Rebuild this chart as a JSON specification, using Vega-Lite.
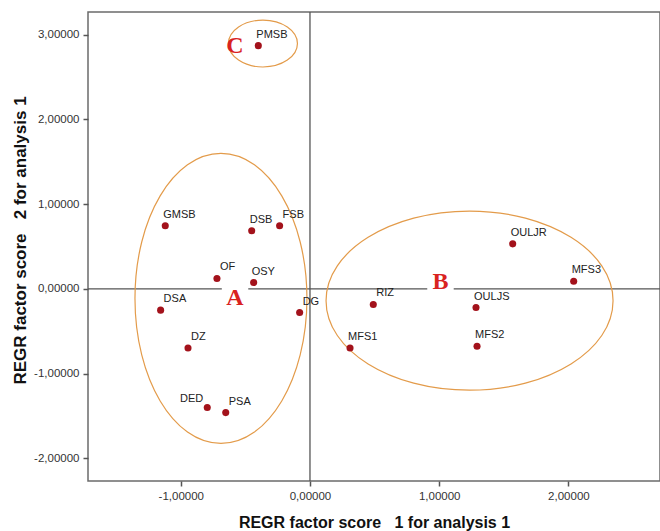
{
  "$schema": "https://vega.github.io/schema/vega-lite/v6.json",
  "width": 572,
  "height": 469,
  "autosize": {"type": "none"},
  "padding": {"left": 88, "top": 12, "right": 0, "bottom": 50},
  "background": "white",
  "config": {
    "view": {"stroke": "#6b6b6b", "strokeWidth": 1.5},
    "axis": {
      "domain": false,
      "grid": false,
      "tickSize": 5,
      "tickColor": "#555555",
      "tickWidth": 1.5,
      "labelFont": "Liberation Sans",
      "labelFontSize": 11.5,
      "labelColor": "#333333",
      "labelPadding": 4,
      "titleFont": "Liberation Sans",
      "titleFontSize": 16,
      "titleFontWeight": "bold",
      "titleColor": "#111111"
    }
  },
  "datasets": {
    "scores": [
      {"name": "PMSB", "x": -0.40, "y": 2.87},
      {"name": "GMSB", "x": -1.12, "y": 0.744},
      {"name": "DSB", "x": -0.451, "y": 0.685},
      {"name": "FSB", "x": -0.235, "y": 0.744},
      {"name": "OF", "x": -0.72, "y": 0.123},
      {"name": "OSY", "x": -0.436, "y": 0.075},
      {"name": "DSA", "x": -1.156, "y": -0.251},
      {"name": "DG", "x": -0.080, "y": -0.279},
      {"name": "DZ", "x": -0.944, "y": -0.697},
      {"name": "DED", "x": -0.795, "y": -1.40},
      {"name": "PSA", "x": -0.652, "y": -1.46},
      {"name": "RIZ", "x": 0.490, "y": -0.184},
      {"name": "MFS1", "x": 0.310, "y": -0.697},
      {"name": "OULJS", "x": 1.285, "y": -0.220},
      {"name": "MFS2", "x": 1.293, "y": -0.677},
      {"name": "MFS3", "x": 2.041, "y": 0.091},
      {"name": "OULJR", "x": 1.569, "y": 0.531}
    ],
    "clusters": [
      {"group": "A", "x": -0.689, "y": -0.113},
      {"group": "B", "x": 1.235, "y": -0.139},
      {"group": "C", "x": -0.364, "y": 2.895}
    ],
    "letters": [
      {"group": "A", "x": -0.580, "y": -0.107},
      {"group": "B", "x": 1.010, "y": 0.081},
      {"group": "C", "x": -0.580, "y": 2.868}
    ],
    "origin": [
      {"x": 0, "y": 0}
    ]
  },
  "layer": [
    {
      "data": {"name": "origin"},
      "mark": {"type": "rule", "color": "#555555", "strokeWidth": 1.3},
      "encoding": {
        "x": {
          "field": "x", "type": "quantitative",
          "scale": {"domain": [-1.718, 2.709], "nice": false, "zero": false},
          "axis": {
            "title": "REGR factor score \u00a0 1 for analysis 1",
            "values": [-1, 0, 1, 2],
            "titlePadding": 13,
            "labelExpr": "(datum.value < 0 ? '-' : '') + replace(format(abs(datum.value), '.5f'), '.', ',')"
          }
        }
      }
    },
    {
      "data": {"name": "origin"},
      "mark": {"type": "rule", "color": "#555555", "strokeWidth": 1.3},
      "encoding": {
        "y": {
          "field": "y", "type": "quantitative",
          "scale": {"domain": [-2.267, 3.267], "nice": false, "zero": false},
          "axis": {
            "title": "REGR factor score \u00a0 2 for analysis 1",
            "values": [-2, -1, 0, 1, 2, 3],
            "titlePadding": 4,
            "titleFontSize": 17,
            "titleY": 228,
            "labelExpr": "(datum.value < 0 ? '-' : '') + replace(format(abs(datum.value), '.5f'), '.', ',')"
          }
        }
      }
    },
    {
      "data": {"name": "clusters"},
      "transform": [{"filter": "datum.group === 'A'"}],
      "mark": {
        "type": "point", "filled": false, "opacity": 1, "color": "#e39b4a", "strokeWidth": 1.2,
        "shape": "M -0.593 0 C -0.593 -0.5523 -0.3275 -1 0 -1 C 0.3275 -1 0.593 -0.5523 0.593 0 C 0.593 0.5523 0.3275 1 0 1 C -0.3275 1 -0.593 0.5523 -0.593 0 Z",
        "size": 84100
      },
      "encoding": {
        "x": {"field": "x", "type": "quantitative", "scale": {"domain": [-1.718, 2.709], "nice": false, "zero": false}},
        "y": {"field": "y", "type": "quantitative", "scale": {"domain": [-2.267, 3.267], "nice": false, "zero": false}}
      }
    },
    {
      "data": {"name": "clusters"},
      "transform": [{"filter": "datum.group === 'B'"}],
      "mark": {
        "type": "point", "filled": false, "opacity": 1, "color": "#e39b4a", "strokeWidth": 1.2,
        "shape": "M -1 0 C -1 -0.3446 -0.5523 -0.624 0 -0.624 C 0.5523 -0.624 1 -0.3446 1 0 C 1 0.3446 0.5523 0.624 0 0.624 C -0.5523 0.624 -1 0.3446 -1 0 Z",
        "size": 82369
      },
      "encoding": {
        "x": {"field": "x", "type": "quantitative", "scale": {"domain": [-1.718, 2.709], "nice": false, "zero": false}},
        "y": {"field": "y", "type": "quantitative", "scale": {"domain": [-2.267, 3.267], "nice": false, "zero": false}}
      }
    },
    {
      "data": {"name": "clusters"},
      "transform": [{"filter": "datum.group === 'C'"}],
      "mark": {
        "type": "point", "filled": false, "opacity": 1, "color": "#e39b4a", "strokeWidth": 1.2,
        "shape": "M -1 0 C -1 -0.3756 -0.5523 -0.68 0 -0.68 C 0.5523 -0.68 1 -0.3756 1 0 C 1 0.3756 0.5523 0.68 0 0.68 C -0.5523 0.68 -1 0.3756 -1 0 Z",
        "size": 4761
      },
      "encoding": {
        "x": {"field": "x", "type": "quantitative", "scale": {"domain": [-1.718, 2.709], "nice": false, "zero": false}},
        "y": {"field": "y", "type": "quantitative", "scale": {"domain": [-2.267, 3.267], "nice": false, "zero": false}}
      }
    },
    {
      "data": {"name": "letters"},
      "transform": [{"filter": "datum.group !== 'C'"}],
      "mark": {"type": "point", "shape": "square", "filled": true, "opacity": 1, "color": "white", "size": 700},
      "encoding": {
        "x": {"field": "x", "type": "quantitative", "scale": {"domain": [-1.718, 2.709], "nice": false, "zero": false}},
        "y": {"field": "y", "type": "quantitative", "scale": {"domain": [-2.267, 3.267], "nice": false, "zero": false}}
      }
    },
    {
      "data": {"name": "letters"},
      "mark": {"type": "text", "font": "Liberation Serif", "fontWeight": "bold", "fontSize": 24, "color": "#d9231f", "align": "center", "baseline": "middle"},
      "encoding": {
        "x": {"field": "x", "type": "quantitative", "scale": {"domain": [-1.718, 2.709], "nice": false, "zero": false}},
        "y": {"field": "y", "type": "quantitative", "scale": {"domain": [-2.267, 3.267], "nice": false, "zero": false}},
        "text": {"field": "group"}
      }
    },
    {
      "data": {"name": "scores"},
      "mark": {"type": "point", "filled": true, "opacity": 1, "color": "#a3121b", "size": 50},
      "encoding": {
        "x": {"field": "x", "type": "quantitative", "scale": {"domain": [-1.718, 2.709], "nice": false, "zero": false}},
        "y": {"field": "y", "type": "quantitative", "scale": {"domain": [-2.267, 3.267], "nice": false, "zero": false}}
      }
    },
    {
      "data": {"name": "scores"},
      "transform": [{"filter": {"field": "name", "oneOf": ["PMSB", "GMSB", "DSB", "OSY", "MFS1", "OULJS", "MFS2", "MFS3", "OULJR"]}}],
      "mark": {"type": "text", "font": "Liberation Sans", "fontSize": 11, "color": "#222222", "align": "left", "baseline": "alphabetic", "dx": -2, "dy": -8},
      "encoding": {
        "x": {"field": "x", "type": "quantitative", "scale": {"domain": [-1.718, 2.709], "nice": false, "zero": false}},
        "y": {"field": "y", "type": "quantitative", "scale": {"domain": [-2.267, 3.267], "nice": false, "zero": false}},
        "text": {"field": "name"}
      }
    },
    {
      "data": {"name": "scores"},
      "transform": [{"filter": {"field": "name", "oneOf": ["OF", "DG", "DZ", "RIZ", "DSA", "PSA", "FSB"]}}],
      "mark": {"type": "text", "font": "Liberation Sans", "fontSize": 11, "color": "#222222", "align": "left", "baseline": "alphabetic", "dx": 3, "dy": -8},
      "encoding": {
        "x": {"field": "x", "type": "quantitative", "scale": {"domain": [-1.718, 2.709], "nice": false, "zero": false}},
        "y": {"field": "y", "type": "quantitative", "scale": {"domain": [-2.267, 3.267], "nice": false, "zero": false}},
        "text": {"field": "name"}
      }
    },
    {
      "data": {"name": "scores"},
      "transform": [{"filter": "datum.name === 'DED'"}],
      "mark": {"type": "text", "font": "Liberation Sans", "fontSize": 11, "color": "#222222", "align": "right", "baseline": "alphabetic", "dx": -4, "dy": -6},
      "encoding": {
        "x": {"field": "x", "type": "quantitative", "scale": {"domain": [-1.718, 2.709], "nice": false, "zero": false}},
        "y": {"field": "y", "type": "quantitative", "scale": {"domain": [-2.267, 3.267], "nice": false, "zero": false}},
        "text": {"field": "name"}
      }
    }
  ]
}
